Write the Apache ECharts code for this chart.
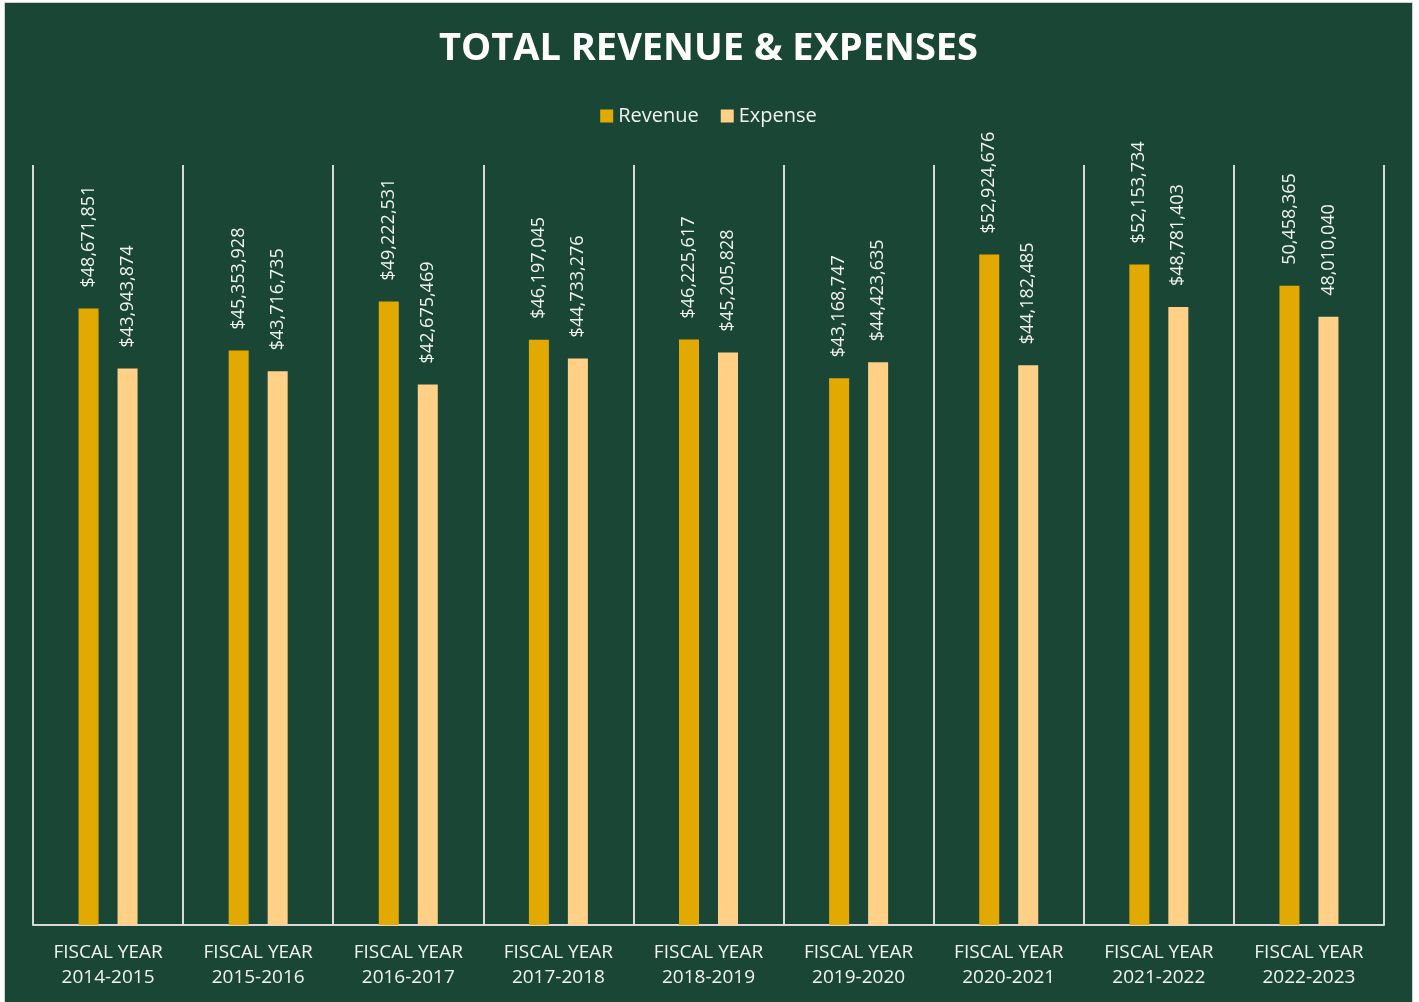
<!DOCTYPE html>
<html>
<head>
<meta charset="utf-8">
<title>Total Revenue & Expenses</title>
<script src="https://cdn.jsdelivr.net/npm/echarts@6/dist/echarts.min.js"></script>
<style>
  html, body { margin: 0; padding: 0; background: #ffffff; }
  #chart {
    position: absolute;
    left: 5px;
    top: 3px;
    width: 1407px;
    height: 999px;
    outline: 1px solid #cfcfcf;
  }
</style>
</head>
<body>
<div id="chart"></div>
<script>
// fiscal years on the x axis
const categories = [
  'FISCAL YEAR\n2014-2015',
  'FISCAL YEAR\n2015-2016',
  'FISCAL YEAR\n2016-2017',
  'FISCAL YEAR\n2017-2018',
  'FISCAL YEAR\n2018-2019',
  'FISCAL YEAR\n2019-2020',
  'FISCAL YEAR\n2020-2021',
  'FISCAL YEAR\n2021-2022',
  'FISCAL YEAR\n2022-2023'
]
const revenue = [48671851, 45353928, 49222531, 46197045, 46225617, 43168747, 52924676, 52153734, 50458365]
const expense = [43943874, 43716735, 42675469, 44733276, 45205828, 44423635, 44182485, 48781403, 48010040]
// last year's labels in the original have no dollar sign
const withDollar = [true, true, true, true, true, true, true, true, false]

const FONT = '"Open Sans", "Noto Sans", sans-serif'
const TEXT = '#f2f2f2'

const chart = echarts.init(document.getElementById('chart'))

const fmt = (p) => (withDollar[p.dataIndex] ? '$' : '') + p.value.toLocaleString('en-US')

const barLabel = {
  show: true,
  position: 'top',
  rotate: 90,
  align: 'left',
  verticalAlign: 'middle',
  distance: 21,
  color: TEXT,
  fontFamily: FONT,
  fontSize: 18,
  formatter: fmt
}

chart.setOption({
  backgroundColor: '#1a4735',
  animation: false,
  title: {
    text: 'TOTAL REVENUE & EXPENSES',
    left: 'center',
    top: 22,
    textStyle: {
      color: '#ffffff',
      fontFamily: FONT,
      fontWeight: 'bold',
      fontSize: 38
    }
  },
  legend: {
    data: ['Revenue', 'Expense'],
    top: 98,
    left: 'center',
    itemWidth: 13,
    itemHeight: 13,
    itemGap: 22,
    icon: 'rect',
    textStyle: {
      color: TEXT,
      fontFamily: FONT,
      fontSize: 20
    }
  },
  grid: {
    left: 28,
    right: 28,
    top: 162,
    bottom: 77
  },
  xAxis: {
    type: 'category',
    data: categories,
    axisLine: { show: true, lineStyle: { color: '#d9d9d9', width: 2 } },
    axisTick: { show: false },
    splitLine: { show: true, lineStyle: { color: '#d9d9d9', width: 2 } },
    axisLabel: {
      color: TEXT,
      fontFamily: FONT,
      fontSize: 19,
      lineHeight: 25,
      margin: 15,
      interval: 0
    }
  },
  yAxis: {
    type: 'value',
    min: 0,
    max: 60000000,
    show: false,
    splitLine: { show: false }
  },
  series: [
    {
      name: 'Revenue',
      type: 'bar',
      data: revenue,
      barWidth: 20,
      barGap: '95%',
      itemStyle: { color: '#e2aa00' },
      label: barLabel
    },
    {
      name: 'Expense',
      type: 'bar',
      data: expense,
      barWidth: 20,
      itemStyle: { color: '#ffd085' },
      label: barLabel
    }
  ]
})
</script>
</body>
</html>
